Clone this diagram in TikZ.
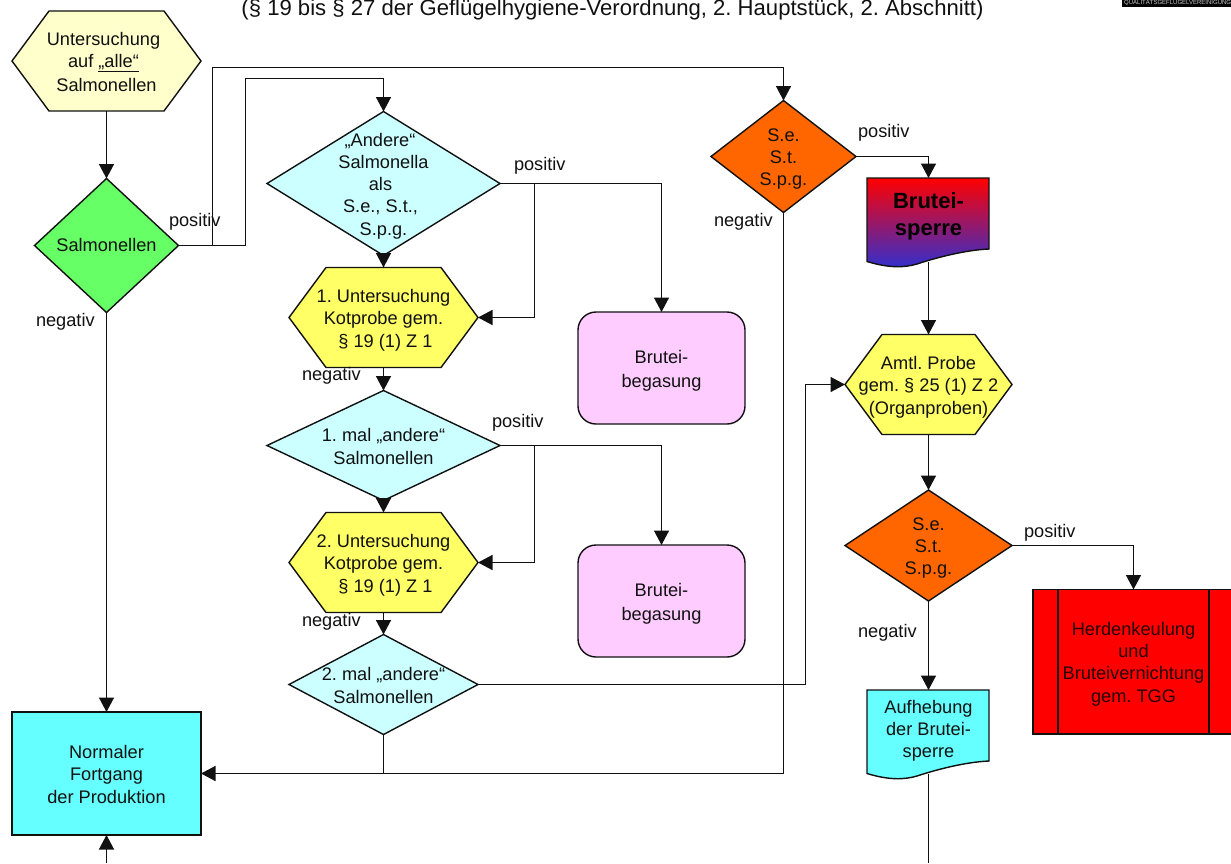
\documentclass[tikz,border=0pt]{standalone}
\usepackage{fontspec}
\setmainfont{Liberation Sans}
\usetikzlibrary{arrows.meta,calc}
\AtBeginDocument{\frenchspacing}
\definecolor{paleyellow}{HTML}{FFFFCC}
\definecolor{leaf}{HTML}{66FF66}
\definecolor{palecyan}{HTML}{CCFFFF}
\definecolor{lemon}{HTML}{FFFF66}
\definecolor{pinkbox}{HTML}{FFCCFF}
\definecolor{cyanbox}{HTML}{66FFFF}
\definecolor{orangebox}{HTML}{FF6600}
\definecolor{ink}{HTML}{111111}
\definecolor{gradblue}{HTML}{3030D0}
\newcommand\ls{\rule[-4pt]{0pt}{22.5pt}}
\tikzset{
  x=1pt,y=-1pt,
  shapeline/.style={draw=ink,line width=1.4pt,line join=miter},
  holder/.style={rectangle,inner sep=0pt,outer sep=0pt,align=center,font=\fontsize{18.2}{22.2}\selectfont,text=ink},
  txt/.style={inner sep=0pt,outer sep=0pt,align=center,font=\fontsize{18.2}{22.2}\selectfont,text=ink},
  flow/.style={draw=ink,line width=1.4pt,-{Triangle[width=15pt,length=14.5pt]}},
  link/.style={draw=ink,line width=1.4pt},
}
% name, cx, cy, half width, half height, inset, colour, text
\newcommand\hexbox[8]{%
  \path[shapeline,fill=#7] (#2-#4,#3) -- (#2-#4+#6,#3-#5) -- (#2+#4-#6,#3-#5) -- (#2+#4,#3) -- (#2+#4-#6,#3+#5) -- (#2-#4+#6,#3+#5) -- cycle;
  \node[holder,minimum width=2*#4 pt,minimum height=2*#5 pt] (#1) at (#2,#3) {\ls #8\ls};}
% name, cx, cy, half width, half height, colour, text
\newcommand\diabox[7]{%
  \path[shapeline,fill=#6] (#2-#4,#3) -- (#2,#3-#5) -- (#2+#4,#3) -- (#2,#3+#5) -- cycle;
  \node[holder,minimum width=2*#4 pt,minimum height=2*#5 pt] (#1) at (#2,#3) {\ls #7\ls};}
\begin{document}
\begin{tikzpicture}
\useasboundingbox (0,0) rectangle (1231,863);
\fill[white] (0,0) rectangle (1231,863);
\node[txt,anchor=base,font=\fontsize{22.1}{26}\selectfont] (title) at (612.5,15) {(§ 19 bis § 27 der Geflügelhygiene-Verordnung, 2. Hauptstück, 2. Abschnitt)};
\begin{scope}
\clip (0,0) rectangle (1231,863);
\node[fill=black,inner sep=0pt,minimum width=109pt,minimum height=7pt,anchor=north west] (logo) at (1122,0) {};
\node[anchor=base west,inner sep=0pt,text=white!80!black,font=\fontsize{6}{6}\selectfont] (logotext) at (1124,4.5) {QUALITÄTSGEFLÜGELVEREINIGUNG};
\end{scope}
\hexbox{start}{106.5}{61}{94.5}{50}{37}{paleyellow}{Untersuchung\kern6pt\\auf \underline{„alle“}\kern6pt\\Salmonellen}
\diabox{green}{106.5}{245.5}{72}{67}{leaf}{\raisebox{1.2pt}{Salmonellen}}
\diabox{q1}{383.5}{183.5}{116.5}{72}{palecyan}{„Andere“\kern7pt\\Salmonella\\als\kern6pt\\S.e., S.t.,\kern6pt\\S.p.g.}
\hexbox{h1}{383.5}{317.5}{94.5}{50}{37}{lemon}{1. Untersuchung\\Kotprobe gem.\\\kern4pt § 19 (1) Z 1}
\diabox{q2}{383.5}{445.5}{116.5}{55}{palecyan}{1. mal „andere“\\Salmonellen}
\hexbox{h2}{383.5}{562.5}{94.5}{50}{37}{lemon}{2. Untersuchung\\Kotprobe gem.\\\kern4pt § 19 (1) Z 1}
\diabox{q3}{383.5}{684.5}{94.5}{50}{palecyan}{2. mal „andere“\\Salmonellen}
\path[shapeline,fill=pinkbox,rounded corners=18pt] (578,312) rectangle (745,424);
\node[holder,minimum width=167pt,minimum height=112pt] (p1) at (661.5,368) {\ls Brutei-\\begasung\ls};
\path[shapeline,fill=pinkbox,rounded corners=18pt] (578,545) rectangle (745,657);
\node[holder,minimum width=167pt,minimum height=112pt] (p2) at (661.5,601) {\ls Brutei-\\begasung\ls};
\node[holder,shapeline,fill=cyanbox,minimum width=189pt,minimum height=123pt] (normal) at (106.5,773.5) {\ls Normaler\\Fortgang\\der Produktion\ls};
\diabox{o1}{783.5}{156.5}{72.5}{56}{orangebox}{S.e.\\S.t.\\S.p.g.}
% Bruteisperre document
\shadedraw[shapeline,top color=red,bottom color=gradblue] (867,178) -- (989,178) -- (989,249) .. controls (965,250) and (935,258) .. (917,264) .. controls (905,267.5) and (890,268.5) .. (867,261.5) -- cycle;
\node[holder,minimum width=122pt,minimum height=84pt] (doc1) at (928.5,220) {};
\node[txt,font=\fontsize{22}{27}\bfseries\selectfont,text=black] (doc1t) at (928.5,216.5) {Brutei-\\sperre};
\hexbox{h3}{928.5}{384.5}{83.5}{50}{37}{lemon}{Amtl. Probe\\gem. § 25 (1) Z 2\\(Organproben)}
\diabox{o2}{928.5}{545.5}{83.5}{55.5}{orangebox}{S.e.\\S.t.\\S.p.g.}
% Aufhebung document
\path[shapeline,fill=cyanbox] (867,690) -- (989,690) -- (989,761) .. controls (965,762) and (935,770) .. (917,776) .. controls (905,779.5) and (890,780.5) .. (867,773.5) -- cycle;
\node[holder,minimum width=122pt,minimum height=84pt] (doc2) at (928.5,732) {};
\node[txt] (doc2t) at (928.5,728.5) {\ls Aufhebung\\der Brutei-\\sperre\ls};
% Herdenkeulung box, running off the page edge
\begin{scope}
\clip (0,0) rectangle (1231,863);
\path[shapeline,fill=red] (1033,589.5) rectangle (1234,734);
\draw[link] (1058,589.5) -- (1058,734) (1209,589.5) -- (1209,734);
\end{scope}
\node[holder,minimum width=201pt,minimum height=144.5pt,text=black!85!red] (red) at (1133.5,661.75) {\ls Herdenkeulung\\und\\Bruteivernichtung\\gem. TGG\ls};
% page-edge ends
\coordinate (bottomleft) at (106.5,863);
\coordinate (bottomright) at (928.5,863);
% connectors
\draw[flow] (start.south) -- (green.north);
\draw[flow] (green.south) -- (normal.north);
\draw[flow] (bottomleft) -- (normal.south);
\draw[flow] (green.east) -- (245.5,245.5) -- (245.5,78.5) -- (383.5,78.5) -- (q1.north);
\draw[flow] (green.east) -- (212.5,245.5) -- (212.5,67.5) -- (783.5,67.5) -- (o1.north);
\draw[flow] (q1.south) -- (h1.north);
\draw[flow] (q1.east) -- (661.5,183.5) -- (p1.north);
\draw[flow] (534.5,183.5) -- (534.5,317.5) -- (h1.east);
\draw[flow] (h1.south) -- (q2.north);
\draw[flow] (q2.south) -- (h2.north);
\draw[flow] (q2.east) -- (661.5,445.5) -- (p2.north);
\draw[flow] (534.5,445.5) -- (534.5,562.5) -- (h2.east);
\draw[flow] (h2.south) -- (q3.north);
\draw[flow] (q3.east) -- (805.5,684.5) -- (805.5,384.5) -- (h3.west);
\draw[link] (q3.south) -- (383.5,773.5);
\draw[flow] (o1.south) -- (783.5,773.5) -- (normal.east);
\draw[flow] (o1.east) -- (928.5,156.5) -- (doc1.north);
\draw[flow] (doc1.south) -- (h3.north);
\draw[flow] (h3.south) -- (o2.north);
\draw[flow] (o2.south) -- (doc2.north);
\draw[flow] (o2.east) -- (1133.5,545.5) -- (red.north);
\draw[link] (doc2.south) -- (bottomright);
% labels
\node[txt,anchor=base west] (l1) at (169,226) {positiv};
\node[txt,anchor=base west] (l2) at (36,326) {negativ};
\node[txt,anchor=base west] (l3) at (514,170) {positiv};
\node[txt,anchor=base west] (l4) at (302,380) {negativ};
\node[txt,anchor=base west] (l5) at (492,427) {positiv};
\node[txt,anchor=base west] (l6) at (302,626) {negativ};
\node[txt,anchor=base west] (l7) at (858,137) {positiv};
\node[txt,anchor=base west] (l8) at (714,226) {negativ};
\node[txt,anchor=base west] (l9) at (1024,537) {positiv};
\node[txt,anchor=base west] (l10) at (858,637) {negativ};
\end{tikzpicture}
\end{document}
